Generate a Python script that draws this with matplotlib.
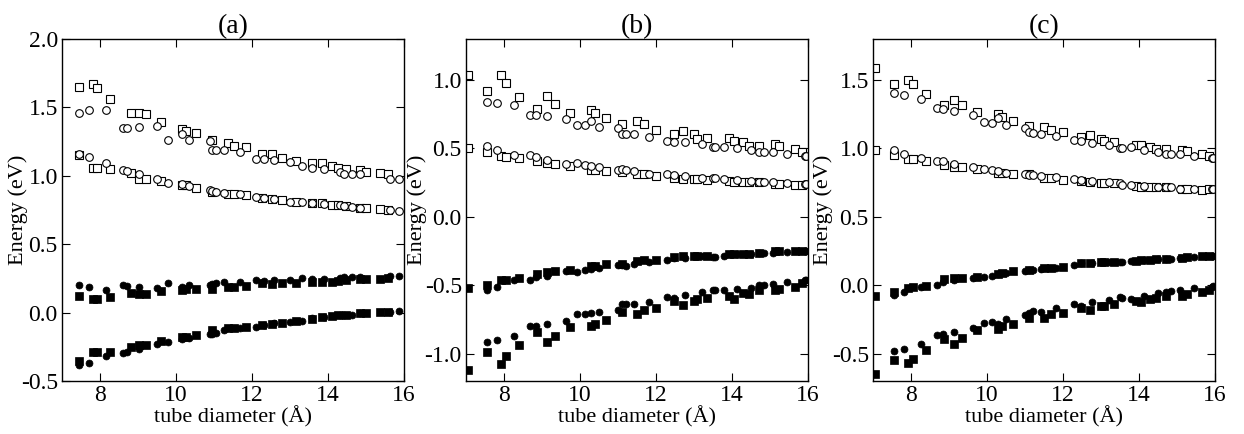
import numpy as np
import matplotlib
matplotlib.use("Agg")
from matplotlib import pyplot as plt

plt.rcParams['font.family'] = ['Liberation Serif', 'DejaVu Serif']
plt.rcParams['axes.unicode_minus'] = False

# ---- panel (a) ----
a_x_sq = [7.45, 7.82, 7.93, 8.27, 8.81, 9.02, 9.21, 9.61, 10.16, 10.26, 10.53, 10.95, 11.37, 11.53,
          11.84, 12.26, 12.53, 12.79, 13.16, 13.58, 13.84, 14.11, 14.26, 14.47, 14.84, 15.00, 15.37, 15.58]
a_sq_hi = [1.65, 1.67, 1.64, 1.56, 1.46, 1.46, 1.45, 1.39, 1.34, 1.33, 1.31, 1.26, 1.24, 1.22,
           1.21, 1.16, 1.16, 1.13, 1.11, 1.09, 1.09, 1.07, 1.06, 1.05, 1.04, 1.03, 1.02, 1.01]
a_sq_lo = [1.15, 1.06, 1.06, 1.05, 1.02, 0.98, 0.98, 0.96, 0.93, 0.93, 0.91, 0.88, 0.87, 0.87,
           0.86, 0.84, 0.83, 0.82, 0.81, 0.80, 0.80, 0.79, 0.785, 0.78, 0.765, 0.765, 0.755, 0.75]
a_sqf_hi = [0.125, 0.101, 0.101, 0.116, 0.145, 0.135, 0.135, 0.159, 0.164, 0.169, 0.169, 0.174, 0.184, 0.184,
            0.193, 0.218, 0.208, 0.213, 0.218, 0.223, 0.223, 0.227, 0.232, 0.237, 0.247, 0.242, 0.242, 0.252]
a_sqf_lo = [-0.356, -0.288, -0.288, -0.288, -0.249, -0.24, -0.24, -0.206, -0.181, -0.181, -0.162, -0.128, -0.113, -0.113,
            -0.103, -0.094, -0.084, -0.074, -0.064, -0.045, -0.035, -0.026, -0.021, -0.016, -0.006, -0.006, 0.004, 0.004]

a_x_ci = [7.45, 7.70, 8.16, 8.60, 8.70, 9.02, 9.51, 9.80, 10.16, 10.34, 10.89, 10.95, 11.05, 11.26,
          11.68, 12.10, 12.32, 12.58, 13.00, 13.32, 13.58, 13.89, 14.32, 14.42, 14.63, 14.84, 15.63, 15.87]
a_ci_hi = [1.456, 1.483, 1.483, 1.351, 1.351, 1.359, 1.361, 1.263, 1.307, 1.259, 1.251, 1.185, 1.19, 1.185,
           1.171, 1.122, 1.122, 1.112, 1.098, 1.068, 1.059, 1.049, 1.029, 1.015, 1.015, 1.015, 0.976, 0.976]
a_ci_lo = [1.161, 1.137, 1.093, 1.044, 1.034, 1.015, 0.98, 0.951, 0.937, 0.927, 0.898, 0.89, 0.883, 0.873,
           0.868, 0.844, 0.839, 0.83, 0.81, 0.805, 0.80, 0.795, 0.785, 0.78, 0.771, 0.766, 0.751, 0.741]
a_cif_hi = [0.203, 0.184, 0.164, 0.203, 0.198, 0.189, 0.179, 0.218, 0.19, 0.203, 0.203, 0.21, 0.215, 0.223,
            0.223, 0.237, 0.232, 0.237, 0.237, 0.252, 0.247, 0.247, 0.255, 0.258, 0.262, 0.262, 0.266, 0.271]
a_cif_lo = [-0.381, -0.371, -0.318, -0.298, -0.288, -0.264, -0.230, -0.215, -0.19, -0.186, -0.157, -0.155, -0.147, -0.128,
            -0.11, -0.103, -0.089, -0.079, -0.069, -0.06, -0.04, -0.035, -0.021, -0.02, -0.016, -0.006, 0.004, 0.013]

# ---- panels (b) and (c) share the same tube diameters ----
bc_x_sq = [7.05, 7.55, 7.92, 8.05, 8.40, 8.87, 9.13, 9.35, 9.74, 10.29, 10.40, 10.69, 11.11, 11.51, 11.69,
           12.01, 12.48, 12.72, 13.01, 13.09, 13.35, 13.91, 14.04, 14.30, 14.46, 14.70, 15.12, 15.25, 15.65, 15.83]
bc_x_ci = [7.55, 7.82, 8.26, 8.69, 8.83, 9.13, 9.64, 9.93, 10.14, 10.29, 10.51, 11.01, 11.11, 11.22, 11.43, 11.82,
           12.30, 12.48, 12.77, 13.20, 13.51, 13.56, 13.78, 14.12, 14.51, 14.70, 14.83, 15.07, 15.46, 15.91, 15.96]

b_sq_hi = [1.039, 0.920, 1.039, 0.976, 0.879, 0.791, 0.886, 0.828, 0.762, 0.784, 0.762, 0.721, 0.675, 0.697, 0.675,
           0.636, 0.602, 0.631, 0.602, 0.568, 0.578, 0.573, 0.558, 0.544, 0.515, 0.515, 0.529, 0.515, 0.495, 0.471]
b_sq_lo = [0.5, 0.476, 0.442, 0.437, 0.427, 0.408, 0.393, 0.383, 0.369, 0.345, 0.340, 0.335, 0.325, 0.311, 0.311,
           0.301, 0.282, 0.277, 0.277, 0.275, 0.272, 0.262, 0.257, 0.257, 0.252, 0.252, 0.243, 0.238, 0.233, 0.233]
b_sqf_hi = [-0.522, -0.498, -0.463, -0.459, -0.449, -0.420, -0.400, -0.395, -0.385, -0.356, -0.356, -0.346, -0.346, -0.322, -0.317,
            -0.312, -0.293, -0.288, -0.288, -0.285, -0.288, -0.273, -0.273, -0.268, -0.268, -0.263, -0.249, -0.249, -0.249, -0.249]
b_sqf_lo = [-1.117, -0.990, -1.073, -1.020, -0.937, -0.844, -0.912, -0.868, -0.805, -0.800, -0.785, -0.751, -0.698, -0.712, -0.678,
            -0.663, -0.615, -0.644, -0.615, -0.60, -0.590, -0.580, -0.600, -0.556, -0.561, -0.537, -0.537, -0.527, -0.512, -0.483]
b_ci_hi = [0.840, 0.835, 0.820, 0.748, 0.743, 0.738, 0.718, 0.670, 0.670, 0.699, 0.655, 0.646, 0.607, 0.607, 0.602, 0.587,
           0.558, 0.549, 0.544, 0.534, 0.510, 0.510, 0.510, 0.500, 0.485, 0.471, 0.471, 0.471, 0.461, 0.447, 0.447]
b_ci_lo = [0.519, 0.490, 0.451, 0.451, 0.437, 0.417, 0.388, 0.393, 0.379, 0.37, 0.364, 0.340, 0.350, 0.34, 0.335, 0.316,
           0.316, 0.306, 0.301, 0.287, 0.287, 0.285, 0.277, 0.272, 0.262, 0.257, 0.255, 0.252, 0.247, 0.238, 0.238]
b_cif_hi = [-0.532, -0.512, -0.459, -0.463, -0.439, -0.429, -0.395, -0.400, -0.390, -0.38, -0.376, -0.351, -0.355, -0.356, -0.346, -0.332,
            -0.317, -0.302, -0.298, -0.288, -0.293, -0.29, -0.283, -0.273, -0.268, -0.263, -0.262, -0.263, -0.254, -0.249, -0.249]
b_cif_lo = [-0.912, -0.902, -0.873, -0.800, -0.800, -0.785, -0.761, -0.712, -0.712, -0.70, -0.693, -0.678, -0.639, -0.635, -0.634, -0.620,
            -0.585, -0.595, -0.571, -0.551, -0.537, -0.535, -0.537, -0.527, -0.517, -0.498, -0.495, -0.493, -0.478, -0.463, -0.463]

c_sq_hi = [1.588, 1.471, 1.5, 1.471, 1.398, 1.32, 1.354, 1.32, 1.266, 1.251, 1.232, 1.202, 1.163, 1.159, 1.134,
           1.12, 1.085, 1.095, 1.071, 1.051, 1.046, 1.027, 1.027, 1.012, 0.998, 0.993, 0.988, 0.978, 0.963, 0.944]
c_sq_lo = [0.988, 0.954, 0.920, 0.920, 0.905, 0.880, 0.866, 0.861, 0.851, 0.822, 0.822, 0.812, 0.812, 0.783, 0.783,
           0.768, 0.763, 0.754, 0.749, 0.744, 0.749, 0.724, 0.720, 0.720, 0.715, 0.715, 0.705, 0.705, 0.695, 0.70]
c_sqf_hi = [-0.076, -0.046, -0.017, -0.012, -0.002, 0.046, 0.051, 0.056, 0.061, 0.085, 0.09, 0.105, 0.11, 0.124, 0.129,
            0.134, 0.159, 0.163, 0.168, 0.168, 0.168, 0.178, 0.183, 0.188, 0.193, 0.193, 0.202, 0.207, 0.212, 0.212]
c_sqf_lo = [-0.646, -0.544, -0.568, -0.539, -0.471, -0.393, -0.427, -0.388, -0.329, -0.320, -0.300, -0.280, -0.241, -0.237, -0.207,
            -0.202, -0.168, -0.178, -0.149, -0.149, -0.134, -0.115, -0.12, -0.1, -0.095, -0.080, -0.076, -0.061, -0.046, -0.032]
c_ci_hi = [1.407, 1.393, 1.363, 1.295, 1.285, 1.271, 1.241, 1.193, 1.183, 1.222, 1.173, 1.149, 1.12, 1.115, 1.105, 1.09,
           1.061, 1.051, 1.037, 1.027, 1.002, 1.002, 1.007, 0.988, 0.973, 0.959, 0.959, 0.959, 0.944, 0.929, 0.929]
c_ci_lo = [0.988, 0.963, 0.929, 0.910, 0.905, 0.885, 0.861, 0.851, 0.841, 0.832, 0.822, 0.812, 0.807, 0.807, 0.798, 0.788,
           0.778, 0.768, 0.763, 0.754, 0.744, 0.734, 0.734, 0.724, 0.720, 0.715, 0.715, 0.705, 0.705, 0.70, 0.70]
c_cif_hi = [-0.071, -0.046, -0.012, 0.002, 0.022, 0.041, 0.056, 0.061, 0.071, 0.085, 0.09, 0.105, 0.11, 0.115, 0.12, 0.129,
            0.149, 0.159, 0.163, 0.168, 0.168, 0.173, 0.178, 0.188, 0.193, 0.193, 0.193, 0.202, 0.207, 0.212, 0.212]
c_cif_lo = [-0.480, -0.466, -0.432, -0.363, -0.359, -0.344, -0.310, -0.276, -0.266, -0.285, -0.246, -0.217, -0.202, -0.188, -0.193, -0.168,
            -0.139, -0.154, -0.12, -0.105, -0.085, -0.090, -0.1, -0.076, -0.056, -0.046, -0.041, -0.037, -0.022, -0.012, -0.007]

panels = [
    ("(a)", a_x_sq, a_x_ci, [a_sq_hi, a_sq_lo], [a_sqf_hi, a_sqf_lo], [a_ci_hi, a_ci_lo], [a_cif_hi, a_cif_lo],
     (-0.5, 2.0), [-0.5, 0.0, 0.5, 1.0, 1.5, 2.0]),
    ("(b)", bc_x_sq, bc_x_ci, [b_sq_hi, b_sq_lo], [b_sqf_hi, b_sqf_lo], [b_ci_hi, b_ci_lo], [b_cif_hi, b_cif_lo],
     (-1.2, 1.3), [-1.0, -0.5, 0.0, 0.5, 1.0]),
    ("(c)", bc_x_sq, bc_x_ci, [c_sq_hi, c_sq_lo], [c_sqf_hi, c_sqf_lo], [c_ci_hi, c_ci_lo], [c_cif_hi, c_cif_lo],
     (-0.7, 1.8), [-0.5, 0.0, 0.5, 1.0, 1.5]),
]

lefts = [62 / 1244, 466 / 1244, 873 / 1244]
ylabel_x = [-0.10, -0.114, -0.117]

fig = plt.figure(figsize=(12.44, 4.34), dpi=100)

for left, lx, (title, xs, xc, sq_open, sq_fill, ci_open, ci_fill, ylim, yticks) in zip(lefts, ylabel_x, panels):
    ax = fig.add_axes([left, 53 / 434, 342 / 1244, 342 / 434])
    for y in sq_open:
        ax.plot(xs, y, 's', ms=5.5, mfc='white', mec='black', mew=0.8, ls='none')
    for y in ci_open:
        ax.plot(xc, y, 'o', ms=5.5, mfc='white', mec='black', mew=0.8, ls='none')
    for y in sq_fill:
        ax.plot(xs, y, 's', ms=5.5, mfc='black', mec='black', mew=0.5, ls='none')
    for y in ci_fill:
        ax.plot(xc, y, 'o', ms=5, mfc='black', mec='black', mew=0.5, ls='none')
    ax.set_xlim(7, 16)
    ax.set_ylim(*ylim)
    ax.set_xticks([8, 10, 12, 14, 16])
    ax.set_yticks(yticks)
    ax.yaxis.set_major_formatter(matplotlib.ticker.FormatStrFormatter('%.1f'))
    ax.tick_params(direction='in', length=6, width=0.8, top=True, right=True, labelsize=17, pad=3)
    for s in ax.spines.values():
        s.set_linewidth(1.0)
    ax.set_title(title, fontsize=20, pad=4)
    ax.set_xlabel('tube diameter (Å)', fontsize=16, labelpad=0)
    ax.set_ylabel('Energy (eV)', fontsize=16)
    ax.yaxis.set_label_coords(lx, 0.5)

plt.savefig('out.png', dpi=100)
